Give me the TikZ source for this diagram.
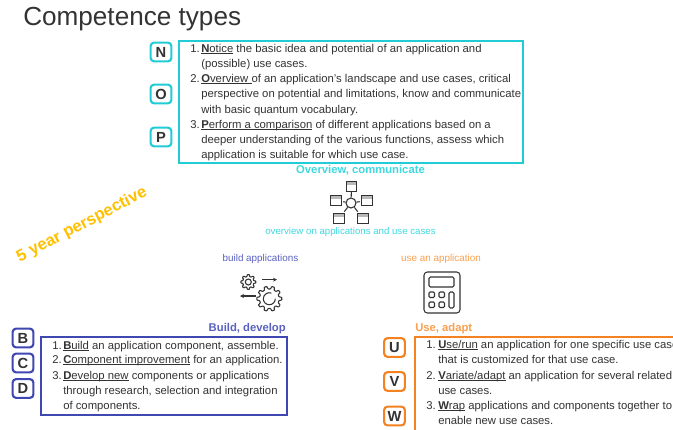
\documentclass[tikz,border=0pt]{standalone}
\usepackage{fontspec}
\usetikzlibrary{arrows.meta}
\setmainfont{Liberation Sans}
\definecolor{cy}{HTML}{22CCD6}
\definecolor{cyl}{HTML}{3FD9E0}
\definecolor{bl}{HTML}{3F48B0}
\definecolor{blt}{HTML}{5A62C0}
\definecolor{orr}{HTML}{F58220}
\definecolor{ort}{HTML}{F9A050}
\definecolor{yel}{HTML}{FFC000}
\definecolor{ink}{HTML}{333333}
\newcommand{\ul}[2]{\setbox0=\hbox{\textbf{#1}#2}\rlap{\rule[-1.1pt]{\wd0}{0.55pt}}\box0\relax}
\newcommand{\mygear}[5]{% cx cy ro ri n
  \draw[ic,rounded corners=0.35pt]
    ({#1+#4*cos(-0.32*360/#5)},{#2+#4*sin(-0.32*360/#5)})
    \foreach \i in {1,...,#5}{
      -- ({#1+#3*cos((\i-1-0.17)*360/#5)},{#2+#3*sin((\i-1-0.17)*360/#5)})
      -- ({#1+#3*cos((\i-1+0.17)*360/#5)},{#2+#3*sin((\i-1+0.17)*360/#5)})
      -- ({#1+#4*cos((\i-1+0.32)*360/#5)},{#2+#4*sin((\i-1+0.32)*360/#5)})
      -- ({#1+#4*cos((\i-0.32)*360/#5)},{#2+#4*sin((\i-0.32)*360/#5)})
    } -- cycle;
}
\tikzset{
  x=0.75pt,y=-0.75pt,
  tl/.style={anchor=base west,inner sep=0,font=\fontsize{8.48}{9}\selectfont,text=ink},
  bdg/.style={draw=#1,line width=1.6pt,rounded corners=2.5pt,minimum width=15.5pt,minimum height=14pt,inner sep=0,font=\fontsize{11}{11}\selectfont\bfseries,text=ink},
  bx/.style={draw=#1,line width=1.1pt},
  ic/.style={draw=ink,line width=0.8pt},
}
\begin{document}
\begin{tikzpicture}
\clip (0,0) rectangle (673,429);
\fill[white] (0,0) rectangle (673,429);
\node[anchor=west,inner sep=0,font=\fontsize{19.6}{20}\selectfont,text=ink] (title) at (23,19.5) {Competence types};
% cyan
\node[bx=cy,minimum width=258pt,minimum height=91.5pt,inner sep=0] (nbox) at (351,102) {};
\node[bdg=cy] (N) at (161,52) {N};
\node[bdg=cy] (O) at (161,94) {O};
\node[bdg=cy] (P) at (161,137) {P};
\node[tl] (n1) at (190,52) {1.};
\node[tl] (n1a) at (201,52) {\ul{N}{otice} the basic idea and potential of an application and};
\node[tl] (n1b) at (201,67.5) {(possible) use cases.};
\node[tl] (n2) at (190,82) {2.};
\node[tl] (n2a) at (201,82) {\ul{O}{verview }of an application's landscape and use cases, critical};
\node[tl] (n2b) at (201,97.5) {perspective on potential and limitations, know and communicate};
\node[tl] (n2c) at (201,113) {with basic quantum vocabulary.};
\node[tl] (n3) at (190,128) {3.};
\node[tl] (n3a) at (201,128) {\ul{P}{erform a comparison} of different applications based on a};
\node[tl] (n3b) at (201,143) {deeper understanding of the various functions, assess which};
\node[tl] (n3c) at (201,158) {application is suitable for which use case.};
\node[inner sep=0,font=\fontsize{8.45}{9}\selectfont\bfseries,text=cyl] (ovc) at (360.5,170) {Overview, communicate};
\node[inner sep=0,font=\fontsize{7.25}{9}\selectfont,text=cyl] (ovu) at (350.5,232) {overview on applications and use cases};
\node[inner sep=0,font=\fontsize{7.4}{9}\selectfont,text=blt] (ba) at (260.5,259) {build applications};
\node[inner sep=0,font=\fontsize{7.4}{9}\selectfont,text=ort] (ua) at (441,259) {use an application};
\node[rotate=27.5,inner sep=0,font=\fontsize{12.4}{13}\selectfont\bfseries,text=yel] (yp) at (82,225) {5 year perspective};
% network icon
\node[draw=ink,line width=0.8pt,circle,minimum size=7.5pt,inner sep=0] (hub) at (351,203) {};
\foreach \nm/\cx/\cy in {ta/351.5/186.5,tb/336/200.5,tc/367/200.5,td/339/218.5,te/363/218.5}{
  \node[minimum width=7.5pt,minimum height=6.6pt,inner sep=0] (\nm) at (\cx,\cy) {};
  \fill[gray!55] (\nm.north west) rectangle ([yshift=-2pt]\nm.north east);
  \draw[ic] (\nm.north west) rectangle (\nm.south east);
}
\draw[ic] (hub) -- (ta);
\draw[ic,shorten >=1.5pt] (hub) -- (tb);
\draw[ic,shorten >=1.5pt] (hub) -- (tc);
\draw[ic,shorten >=2pt] (hub) -- (td);
\draw[ic,shorten >=2pt] (hub) -- (te);
% gears icon
\mygear{248.3}{282}{7.5}{5.6}{8}
\mygear{269.3}{298.7}{12.5}{9.8}{10}
\draw[ic] (248.3,282) circle[radius=3];
\draw[ic] (269.3+6,298.7) arc[start angle=0,end angle=290,radius=6];
\coordinate (ga) at (262,279.7);
\coordinate (gb) at (277,279.7);
\coordinate (gc) at (256,296);
\coordinate (gd) at (240,296);
\draw[ic,-{Stealth[length=3pt,width=3pt]}] (ga) -- (gb);
\draw[ic,-{Stealth[length=3pt,width=3pt]}] (gc) -- (gd);
% blue
\node[inner sep=0,anchor=east,font=\fontsize{8.45}{9}\selectfont\bfseries,text=blt] (bd) at (286,329) {Build, develop};
\node[bx=bl,minimum width=184.5pt,minimum height=58.5pt,inner sep=0] (bbox) at (164,376) {};
\node[bdg=bl] (B) at (23,338) {B};
\node[bdg=bl] (C) at (23,363) {C};
\node[bdg=bl] (D) at (23,388.5) {D};
\node[tl] (b1) at (52,349) {1.};
\node[tl] (b1a) at (63,349) {\ul{B}{uild} an application component, assemble.};
\node[tl] (b2) at (52,363) {2.};
\node[tl] (b2a) at (63,363) {\ul{C}{omponent improvement} for an application.};
\node[tl] (b3) at (52,379) {3.};
\node[tl] (b3a) at (63,379) {\ul{D}{evelop new} components or applications};
\node[tl] (b3b) at (63,394) {through research, selection and integration};
\node[tl] (b3c) at (63,409) {of components.};
% orange
\node[inner sep=0,anchor=west,font=\fontsize{8.45}{9}\selectfont\bfseries,text=ort] (ud) at (415,329) {Use, adapt};
\draw[orr,line width=1.1pt] (415,337) rectangle (690,440);
\node[bdg=orr] (U) at (394.5,347.5) {U};
\node[bdg=orr] (V) at (394.5,381.5) {V};
\node[bdg=orr] (W) at (394.5,416) {W};
\node[tl] (u1) at (426,348) {1.};
\node[tl] (u1a) at (438,348) {\ul{U}{se/run} an application for one specific use case};
\node[tl] (u1b) at (438,363) {that is customized for that use case.};
\node[tl] (u2) at (426,379) {2.};
\node[tl] (u2a) at (438,379) {\ul{V}{ariate/adapt} an application for several related};
\node[tl] (u2b) at (438,394) {use cases.};
\node[tl] (u3) at (426,409) {3.};
\node[tl] (u3a) at (438,409) {\ul{W}{rap} applications and components together to};
\node[tl] (u3b) at (438,424) {enable new use cases.};
% calculator
\draw[ic,rounded corners=2.5pt] (424,272) rectangle (460,313);
\draw[ic,rounded corners=1pt] (429,277) rectangle (454,287);
\foreach \bx/\by in {429/292,439/292,429/302,439/302}{
  \draw[ic,rounded corners=0.8pt] (\bx,\by) rectangle ++(5.5,5.5);
}
\draw[ic,rounded corners=1pt] (449,292) rectangle (454,308);
\end{tikzpicture}
\end{document}
